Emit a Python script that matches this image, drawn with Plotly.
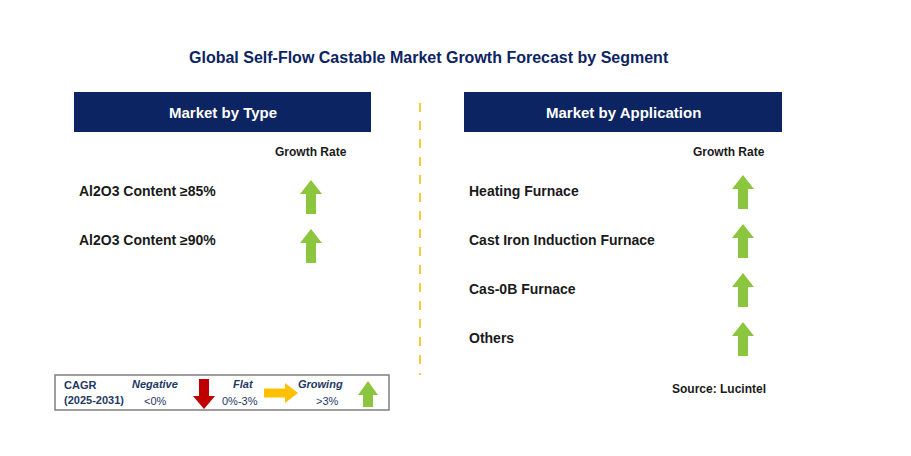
import plotly.graph_objects as go

title = "Global Self-Flow Castable Market Growth Forecast by Segment"
type_segments = ["Al2O3 Content ≥85%", "Al2O3 Content ≥90%"]
type_growth = ["Growing", "Growing"]
app_segments = ["Heating Furnace", "Cast Iron Induction Furnace", "Cas-0B Furnace", "Others"]
app_growth = ["Growing", "Growing", "Growing", "Growing"]
source = "Source: Lucintel"

NAVY = "#0c2461"
GREEN = "#8cc63f"
FONT = "Arial, Liberation Sans, sans-serif"

fig = go.Figure()
shapes, ann = [], []

def up_arrow(cx, cy, w=22, h=34, color=GREEN):
    hw, sw, hh = w/2, 5, 14
    top, bot = cy - h/2, cy + h/2
    p = (f"M{cx},{top} L{cx+hw},{top+hh} L{cx+sw},{top+hh} L{cx+sw},{bot} "
         f"L{cx-sw},{bot} L{cx-sw},{top+hh} L{cx-hw},{top+hh} Z")
    return dict(type="path", path=p, fillcolor=color, line=dict(width=0), xref="x", yref="y")

def down_arrow(cx, cy, w=22, h=30, color="#c00000"):
    hw, sw, hh = w/2, 5, 13
    top, bot = cy - h/2, cy + h/2
    p = (f"M{cx},{bot} L{cx+hw},{bot-hh} L{cx+sw},{bot-hh} L{cx+sw},{top} "
         f"L{cx-sw},{top} L{cx-sw},{bot-hh} L{cx-hw},{bot-hh} Z")
    return dict(type="path", path=p, fillcolor=color, line=dict(width=0), xref="x", yref="y")

def right_arrow(cx, cy, w=34, h=20, color="#ffc000"):
    hh, sw, hl = h/2, 4.5, 13
    l, r = cx - w/2, cx + w/2
    p = (f"M{r},{cy} L{r-hl},{cy-hh} L{r-hl},{cy-sw} L{l},{cy-sw} "
         f"L{l},{cy+sw} L{r-hl},{cy+sw} L{r-hl},{cy+hh} Z")
    return dict(type="path", path=p, fillcolor=color, line=dict(width=0), xref="x", yref="y")

def text(x, y, t, size=14, color="#1a1a1a", bold=True, xanchor="left", italic=False):
    s = t
    if bold: s = f"<b>{s}</b>"
    if italic: s = f"<i>{s}</i>"
    ann.append(dict(x=x, y=y, xref="x", yref="y", text=s, showarrow=False, xanchor=xanchor,
                    yanchor="middle", font=dict(size=size, color=color, family=FONT)))

text(429, 57, title, size=16, color=NAVY, xanchor="center")

for x0, x1, label in [(74, 371, "Market by Type"), (464, 782, "Market by Application")]:
    shapes.append(dict(type="rect", x0=x0, x1=x1, y0=92, y1=132, fillcolor=NAVY,
                       line=dict(width=0), xref="x", yref="y"))
    text((x0+x1)/2, 112, label, size=15, color="white", xanchor="center")

shapes.append(dict(type="line", x0=420, x1=420, y0=103, y1=375, xref="x", yref="y",
                   line=dict(color="#f5b800", width=1.5, dash="dash")))

text(311, 152, "Growth Rate", size=12, xanchor="center")
text(729, 152, "Growth Rate", size=12, xanchor="center")

for i, (seg, g) in enumerate(zip(type_segments, type_growth)):
    y = 191 + i * 49
    text(77, y, seg)
    shapes.append(up_arrow(311, y + 6))

for i, (seg, g) in enumerate(zip(app_segments, app_growth)):
    y = 191 + i * 49
    text(467, y, seg)
    shapes.append(up_arrow(743, y + 1))

shapes.append(dict(type="rect", x0=55, x1=389, y0=375, y1=410, fillcolor="white",
                   line=dict(color="#7f7f7f", width=1.5), xref="x", yref="y"))
text(62, 385, "CAGR", size=11, color="#1f3864")
text(62, 400, "(2025-2031)", size=11, color="#1f3864")
text(155, 384, "Negative", size=11, color="#1f3864", italic=True, xanchor="center")
text(155, 401, "&lt;0%", size=11, color="#1f3864", bold=False, xanchor="center")
shapes.append(down_arrow(204, 394))
text(243, 384, "Flat", size=11, color="#1f3864", italic=True, xanchor="center")
text(240, 401, "0%-3%", size=11, color="#1f3864", bold=False, xanchor="center")
shapes.append(right_arrow(281, 393))
text(320, 384, "Growing", size=11, color="#1f3864", italic=True, xanchor="center")
text(327, 401, "&gt;3%", size=11, color="#1f3864", bold=False, xanchor="center")
shapes.append(up_arrow(368, 394, w=20, h=26))

text(719, 389, source, size=12, xanchor="center")

fig.update_layout(width=911, height=456, margin=dict(l=0, r=0, t=0, b=0),
                  plot_bgcolor="white", paper_bgcolor="white", shapes=shapes, annotations=ann,
                  xaxis=dict(range=[8, 919], visible=False, fixedrange=True),
                  yaxis=dict(range=[464, 8], visible=False, fixedrange=True),
                  showlegend=False)
fig.write_html("out.html")
